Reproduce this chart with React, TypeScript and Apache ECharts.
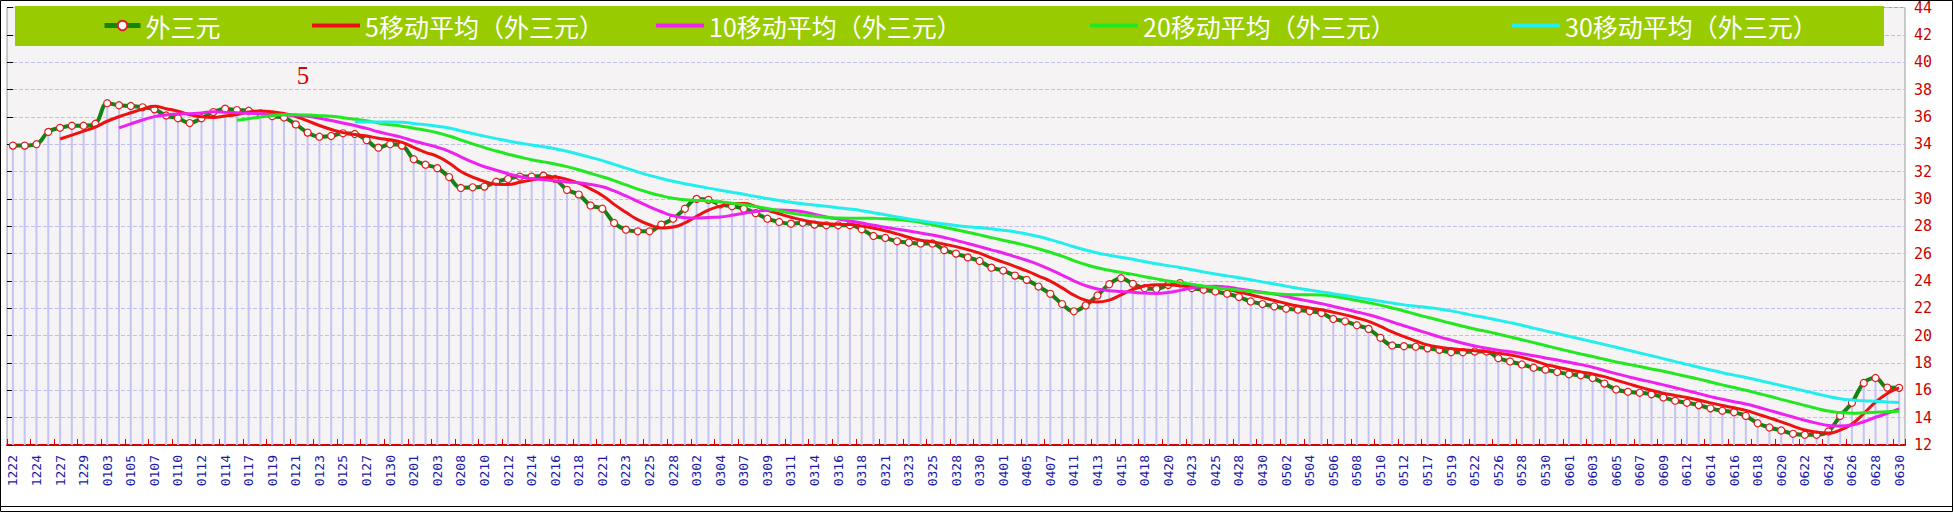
import React, { useEffect, useRef } from 'react';
import * as echarts from 'echarts';

const dates = [
  '1222','1223','1224','1225','1227','1228','1229','1231','0103','0104',
  '0105','0106','0107','0108','0110','0111','0112','0113','0114','0115',
  '0117','0118','0119','0120','0121','0122','0123','0124','0125','0126',
  '0127','0128','0130','0131','0201','0202','0203','0205','0208','0209',
  '0210','0211','0212','0213','0214','0215','0216','0217','0218','0219',
  '0221','0222','0223','0224','0225','0226','0228','0301','0302','0303',
  '0304','0305','0307','0308','0309','0310','0311','0312','0314','0315',
  '0316','0317','0318','0319','0321','0322','0323','0324','0325','0326',
  '0328','0329','0330','0331','0401','0402','0405','0406','0407','0409',
  '0411','0412','0413','0414','0415','0416','0418','0419','0420','0421',
  '0423','0424','0425','0426','0428','0429','0430','0501','0502','0503',
  '0504','0505','0506','0507','0508','0509','0510','0511','0512','0514',
  '0517','0518','0519','0520','0522','0524','0526','0527','0528','0529',
  '0530','0531','0601','0602','0603','0604','0605','0606','0607','0608',
  '0609','0611','0612','0613','0614','0615','0616','0617','0618','0619',
  '0620','0621','0622','0623','0624','0625','0626','0627','0628','0629',
  '0630'
];

const waiSanYuan = [
  33.90,33.90,34.00,34.90,35.20,35.35,35.35,35.50,37.00,36.85,
  36.80,36.70,36.55,36.10,35.90,35.55,35.90,36.35,36.60,36.50,
  36.45,36.25,36.05,35.95,35.45,34.85,34.55,34.60,34.80,34.75,
  34.30,33.75,34.00,33.90,32.90,32.50,32.25,31.60,30.80,30.85,
  30.90,31.26,31.46,31.63,31.63,31.70,31.46,30.66,30.32,29.52,
  29.28,28.24,27.75,27.63,27.63,28.12,28.55,29.28,30.00,29.93,
  29.60,29.47,29.28,28.96,28.55,28.31,28.19,28.26,28.12,28.07,
  28.07,28.07,27.78,27.29,27.15,26.90,26.81,26.74,26.74,26.25,
  26.00,25.72,25.46,24.97,24.76,24.39,24.08,23.59,23.06,22.31,
  21.78,22.21,22.94,23.76,24.20,23.79,23.47,23.42,23.71,23.84,
  23.47,23.35,23.23,23.06,22.82,22.50,22.31,22.14,21.97,21.90,
  21.78,21.66,21.22,21.05,20.76,20.49,19.84,19.28,19.23,19.19,
  19.07,18.96,18.79,18.79,18.84,18.84,18.35,18.11,17.89,17.65,
  17.51,17.34,17.17,17.10,16.90,16.49,16.06,15.89,15.82,15.72,
  15.48,15.24,15.09,14.92,14.68,14.51,14.39,14.13,13.59,13.28,
  13.06,12.82,12.75,12.75,12.99,14.13,15.09,16.54,16.90,16.20,
  16.18
];

const ma5 = [
  null,null,null,null,34.38,34.67,34.96,35.26,35.68,36.01,
  36.30,36.57,36.78,36.60,36.41,36.16,36.00,35.96,36.06,36.18,
  36.36,36.43,36.37,36.24,36.03,35.71,35.37,35.08,34.85,34.71,
  34.60,34.44,34.32,34.14,33.77,33.41,33.11,32.63,32.01,31.60,
  31.28,31.08,31.05,31.22,31.38,31.54,31.58,31.42,31.15,30.73,
  30.25,29.60,29.02,28.48,28.11,27.87,27.94,28.24,28.72,29.18,
  29.47,29.66,29.66,29.45,29.17,28.91,28.66,28.45,28.29,28.19,
  28.14,28.12,28.02,27.86,27.67,27.44,27.19,26.98,26.87,26.69,
  26.51,26.29,26.03,25.68,25.38,25.06,24.73,24.36,23.98,23.49,
  22.96,22.59,22.46,22.60,22.98,23.38,23.63,23.73,23.72,23.65,
  23.58,23.56,23.52,23.39,23.19,22.99,22.78,22.57,22.35,22.16,
  22.02,21.89,21.71,21.52,21.29,21.04,20.67,20.28,19.92,19.61,
  19.32,19.15,19.05,18.96,18.89,18.84,18.72,18.59,18.41,18.17,
  17.90,17.70,17.51,17.35,17.20,17.00,16.74,16.49,16.23,16.00,
  15.79,15.63,15.47,15.29,15.08,14.89,14.72,14.53,14.26,13.98,
  13.69,13.38,13.10,12.93,12.87,13.09,13.54,14.30,15.13,15.77,
  16.18
];

const ma10 = [
  null,null,null,null,null,null,null,null,null,35.20,
  35.49,35.77,36.02,36.14,36.21,36.23,36.29,36.37,36.33,36.30,
  36.26,36.22,36.17,36.15,36.11,36.04,35.90,35.73,35.55,35.37,
  35.16,34.91,34.70,34.50,34.24,34.01,33.78,33.48,33.08,32.69,
  32.35,32.10,31.84,31.62,31.49,31.41,31.33,31.24,31.19,31.05,
  30.89,30.59,30.22,29.82,29.42,29.06,28.77,28.63,28.60,28.64,
  28.67,28.80,28.95,29.08,29.17,29.19,29.16,29.06,28.87,28.68,
  28.53,28.39,28.24,28.07,27.93,27.79,27.65,27.50,27.36,27.18,
  26.97,26.74,26.51,26.27,26.04,25.78,25.51,25.20,24.83,24.43,
  24.01,23.66,23.41,23.29,23.23,23.17,23.11,23.09,23.16,23.31,
  23.48,23.60,23.62,23.55,23.42,23.29,23.17,23.04,22.87,22.68,
  22.51,22.34,22.14,21.94,21.73,21.53,21.28,21.00,20.72,20.45,
  20.18,19.91,19.67,19.44,19.25,19.08,18.93,18.82,18.68,18.53,
  18.37,18.21,18.05,17.88,17.69,17.45,17.22,17.00,16.79,16.60,
  16.40,16.19,15.98,15.76,15.54,15.34,15.17,15.00,14.78,14.53,
  14.29,14.05,13.81,13.60,13.43,13.39,13.46,13.70,14.03,14.32,
  14.64
];

const ma20 = [
  null,null,null,null,null,null,null,null,null,null,
  null,null,null,null,null,null,null,null,null,35.75,
  35.87,35.99,36.09,36.15,36.16,36.13,36.09,36.05,35.94,35.83,
  35.71,35.56,35.43,35.32,35.17,35.02,34.84,34.60,34.31,34.03,
  33.75,33.50,33.27,33.06,32.86,32.71,32.55,32.36,32.13,31.87,
  31.62,31.34,31.03,30.72,30.45,30.23,30.05,29.93,29.89,29.85,
  29.78,29.69,29.58,29.45,29.30,29.13,28.96,28.84,28.73,28.66,
  28.60,28.59,28.59,28.58,28.55,28.49,28.40,28.28,28.11,27.93,
  27.75,27.56,27.37,27.17,26.98,26.79,26.58,26.35,26.10,25.81,
  25.49,25.20,24.96,24.78,24.63,24.48,24.31,24.15,23.99,23.87,
  23.75,23.63,23.52,23.42,23.32,23.23,23.14,23.07,23.01,22.99,
  22.99,22.97,22.88,22.74,22.57,22.41,22.23,22.02,21.80,21.56,
  21.34,21.12,20.90,20.69,20.49,20.31,20.11,19.91,19.70,19.49,
  19.28,19.06,18.86,18.66,18.47,18.27,18.08,17.91,17.74,17.56,
  17.39,17.20,17.01,16.82,16.61,16.40,16.20,16.00,15.78,15.57,
  15.34,15.12,14.90,14.68,14.48,14.37,14.32,14.35,14.40,14.43,
  14.46
];

const ma30 = [
  null,null,null,null,null,null,null,null,null,null,
  null,null,null,null,null,null,null,null,null,null,
  null,null,null,null,null,null,null,null,null,35.62,
  35.63,35.63,35.63,35.60,35.52,35.42,35.32,35.19,34.98,34.78,
  34.59,34.41,34.24,34.09,33.94,33.82,33.67,33.48,33.27,33.04,
  32.80,32.53,32.25,31.98,31.72,31.49,31.29,31.11,30.95,30.79,
  30.64,30.49,30.34,30.17,30.03,29.89,29.75,29.64,29.55,29.46,
  29.36,29.26,29.14,28.99,28.84,28.68,28.53,28.40,28.28,28.17,
  28.06,27.97,27.90,27.81,27.71,27.59,27.44,27.25,27.02,26.77,
  26.50,26.26,26.05,25.88,25.73,25.58,25.42,25.26,25.12,24.98,
  24.82,24.66,24.51,24.37,24.23,24.08,23.93,23.78,23.62,23.47,
  23.33,23.20,23.06,22.93,22.79,22.66,22.52,22.38,22.25,22.15,
  22.06,21.95,21.81,21.64,21.46,21.30,21.13,20.95,20.76,20.55,
  20.35,20.15,19.95,19.75,19.55,19.35,19.15,18.94,18.73,18.53,
  18.32,18.10,17.90,17.69,17.49,17.29,17.11,16.94,16.75,16.55,
  16.35,16.15,15.95,15.75,15.55,15.39,15.29,15.23,15.20,15.15,
  15.11
];

const seriesNames = [
  '外三元',
  '5移动平均（外三元）',
  '10移动平均（外三元）',
  '20移动平均（外三元）',
  '30移动平均（外三元）'
];
const maColors = ['#ee1111', '#ee22ee', '#22e822', '#22eeee'];
const legendLefts = [102, 312, 656, 1090, 1512];
const yMin = 12;
const yMax = 44;
const yStep = 2;

export default function App() {
  const ref = useRef<HTMLDivElement>(null);

  useEffect(() => {
    document.body.style.margin = '0';
    const chart = echarts.init(ref.current as HTMLDivElement, null, { renderer: 'svg' });
    const legendText = {
      color: '#ffffff',
      fontSize: 25,
      fontFamily: '"Noto Sans CJK SC", sans-serif'
    };
    const legends = seriesNames.map((name, i) =>
      i === 0
        ? {
            data: [name],
            left: legendLefts[i],
            top: 13,
            padding: 0,
            itemWidth: 36,
            itemHeight: 12,
            selectedMode: false,
            z: 10,
            lineStyle: { width: 5 },
            textStyle: legendText
          }
        : {
            data: [{ name, icon: 'rect' }],
            left: legendLefts[i],
            top: 13,
            padding: 0,
            itemWidth: 48,
            itemHeight: 4,
            selectedMode: false,
            z: 10,
            textStyle: legendText
          }
    );

    const maSets = [ma5, ma10, ma20, ma30];

    chart.setOption({
      animation: false,
      backgroundColor: '#ffffff',
      legend: legends,
      grid: {
        left: 7,
        right: 49,
        top: 4,
        bottom: 68,
        show: true,
        backgroundColor: '#f5f3f3',
        borderColor: '#9a9a9a',
        borderWidth: 1
      },
      xAxis: {
        type: 'category',
        data: dates,
        boundaryGap: true,
        axisLine: { show: true, lineStyle: { color: '#dd0000', width: 2 } },
        axisTick: {
          show: true,
          inside: true,
          length: 6,
          interval: 1,
          lineStyle: { color: '#dd0000', width: 1 }
        },
        axisLabel: {
          interval: 1,
          rotate: 90,
          margin: 10,
          color: '#1a1aa8',
          fontSize: 13,
          fontFamily: '"DejaVu Sans Mono", monospace'
        },
        splitLine: { show: false }
      },
      yAxis: [
        {
          type: 'value',
          position: 'right',
          min: yMin,
          max: yMax,
          interval: yStep,
          axisLine: { show: false },
          axisTick: { show: false },
          axisLabel: {
            color: '#cc0000',
            fontSize: 15,
            margin: 9,
            fontFamily: '"DejaVu Sans Mono", monospace'
          },
          splitLine: {
            show: true,
            lineStyle: { color: '#c0c0ee', type: [4, 2], width: 1 }
          }
        },
        {
          type: 'value',
          position: 'left',
          min: yMin,
          max: yMax,
          interval: yStep,
          axisLine: { show: false },
          axisTick: { show: true, inside: true, length: 6, lineStyle: { color: '#000000' } },
          axisLabel: { show: false },
          splitLine: { show: false }
        }
      ],
      graphic: [
        {
          type: 'rect',
          z: 3,
          shape: { x: 15, y: 6, width: 1869, height: 40 },
          style: { fill: '#99cc00' }
        },
        {
          type: 'text',
          z: 3,
          x: 303,
          y: 75,
          style: {
            text: '5',
            fill: '#dd0000',
            font: '25px "Liberation Serif", serif',
            textAlign: 'center',
            textVerticalAlign: 'middle'
          }
        },
        {
          type: 'rect',
          z: 20,
          shape: { x: 0.5, y: 0.5, width: 1952, height: 511 },
          style: { fill: 'none', stroke: '#000000', lineWidth: 1 }
        },
        {
          type: 'line',
          z: 20,
          shape: { x1: 0, y1: 506.5, x2: 1953, y2: 506.5 },
          style: { stroke: '#000000', lineWidth: 1 }
        }
      ],
      series: [
        {
          name: 'bars',
          type: 'bar',
          data: waiSanYuan,
          barWidth: 2,
          silent: true,
          clip: true,
          z: 1,
          itemStyle: { color: '#c4c4f4' }
        },
        {
          name: seriesNames[0],
          type: 'line',
          data: waiSanYuan,
          smooth: 0.4,
          z: 3,
          symbol: 'circle',
          symbolSize: 7,
          showAllSymbol: true,
          lineStyle: { color: '#138313', width: 4 },
          itemStyle: { color: '#ffffff', borderColor: '#e02020', borderWidth: 1.2 }
        },
        ...maSets.map((d, k) => ({
          name: seriesNames[k + 1],
          type: 'line',
          data: d,
          smooth: true,
          z: 4,
          symbol: 'none',
          lineStyle: { color: maColors[k], width: 3 },
          itemStyle: { color: maColors[k] }
        }))
      ]
    });

    return () => chart.dispose();
  }, []);

  return <div ref={ref} style={{ width: 1954, height: 513 }} />;
}
